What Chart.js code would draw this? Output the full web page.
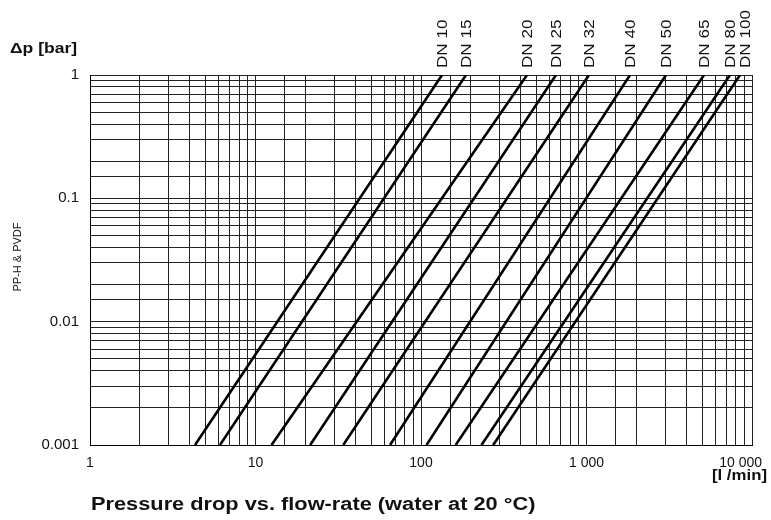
<!DOCTYPE html>
<html>
<head>
<meta charset="utf-8">
<title>Pressure drop vs. flow-rate</title>
<script src="https://cdn.jsdelivr.net/npm/chart.js@4.4.1/dist/chart.umd.min.js"></script>
<style>
	body { margin: 0; background: #fff; }
	canvas { display: block; }
</style>
</head>
<body>
<canvas id="mycanvas" width="771" height="520"></canvas>
<script>
// pipe sizes and the flow [l/min] where each line meets 0.001 bar and 1 bar
var sizes = ["DN 10", "DN 15", "DN 20", "DN 25", "DN 32", "DN 40", "DN 50", "DN 65", "DN 80", "DN 100"];
var flowLow = [4.31, 6.1, 12.5, 21.4, 33.9, 65, 108, 162, 232, 273];
var flowHigh = [134, 187, 437, 654, 1035, 1832, 3020, 5130, 7360, 8460];
var dpLow = 0.001;
var dpHigh = 1;

var xTicks = [1, 10, 100, 1000, 10000];
var xTickLabels = ["1", "10", "100", "1 000", "10 000"];
var yTicks = [1, 0.1, 0.01, 0.001];
var yTickLabels = ["1", "0.1", "0.01", "0.001"];

var FONT = "'Liberation Sans', Arial, Helvetica, sans-serif";

var datasets = [];
for (var i in sizes) {
	datasets.push({
		label: sizes[i],
		data: [{x: flowLow[i], y: dpLow}, {x: flowHigh[i], y: dpHigh}],
		borderColor: "#000",
		borderWidth: 2.6,
		pointRadius: 0,
		fill: false
	});
}

// stretched text helper (source chart has wide lettering)
function wideText(ctx, text, x, y, stretch) {
	ctx.save();
	ctx.translate(x, y);
	ctx.scale(stretch, 1);
	ctx.fillText(text, 0, 0);
	ctx.restore();
}

var extras = {
	id: "extras",
	afterDraw: function(chart) {
		var ctx = chart.ctx;
		var xs = chart.scales.x;
		var area = chart.chartArea;

		ctx.save();
		ctx.fillStyle = "#111";

		// x tick labels
		ctx.font = "14px " + FONT;
		ctx.textBaseline = "middle";
		for (var i = 0; i < xTicks.length; i++) {
			var px = xs.getPixelForValue(xTicks[i]);
			if (i == xTicks.length - 1) {
				ctx.textAlign = "right";
				ctx.fillText(xTickLabels[i], px + 10, area.bottom + 18);
			} else {
				ctx.textAlign = "center";
				ctx.fillText(xTickLabels[i], px, area.bottom + 18);
			}
		}

		// axis titles
		ctx.font = "bold 14px " + FONT;
		ctx.textAlign = "left";
		ctx.textBaseline = "alphabetic";
		wideText(ctx, "\u0394p [bar]", 10, 53, 1.25);

		ctx.textAlign = "right";
		wideText(ctx, "[l /min]", 767, 480, 1.2);

		ctx.font = "bold 18px " + FONT;
		ctx.textAlign = "left";
		wideText(ctx, "Pressure drop vs. flow-rate (water at 20 \u00b0C)", 91, 510, 1.21);

		// material note on the left
		ctx.save();
		ctx.translate(21, (area.top + area.bottom) / 2 - 3);
		ctx.rotate(-Math.PI / 2);
		ctx.font = "11px " + FONT;
		ctx.textAlign = "center";
		ctx.fillText("PP-H & PVDF", 0, 0);
		ctx.restore();

		// DN labels above the top end of each line
		ctx.font = "14px " + FONT;
		var last = -100;
		for (var j = 0; j < sizes.length; j++) {
			var lx = xs.getPixelForValue(flowHigh[j]);
			if (lx - last < 15) lx = last + 15;
			last = lx;
			ctx.save();
			ctx.translate(lx + 5, area.top - 7);
			ctx.rotate(-Math.PI / 2);
			ctx.scale(1.22, 1);
			ctx.textAlign = "left";
			ctx.textBaseline = "alphabetic";
			ctx.fillText(sizes[j], 0, 0);
			ctx.restore();
		}
		ctx.restore();
	}
};

var ctx = document.getElementById("mycanvas");

var LineGraph = new Chart(ctx, {
	type: "line",
	data: { datasets: datasets },
	plugins: [extras],
	options: {
		responsive: false,
		animation: false,
		devicePixelRatio: 1,
		layout: { padding: { left: 0, right: 19, top: 75, bottom: 75 } },
		plugins: {
			legend: { display: false },
			tooltip: { enabled: false }
		},
		scales: {
			x: {
				type: "logarithmic",
				min: xTicks[0],
				max: xTicks[xTicks.length - 1],
				border: { display: true, color: "#000", width: 1 },
				grid: { color: "#222", lineWidth: 1, drawTicks: false },
				ticks: { display: false }
			},
			y: {
				type: "logarithmic",
				min: dpLow,
				max: dpHigh,
				afterFit: function(scale) { scale.width = 90; },
				border: { display: true, color: "#000", width: 1 },
				grid: { color: "#222", lineWidth: 1, drawTicks: false },
				ticks: {
					autoSkip: false,
					padding: 11,
					color: "#111",
					font: { family: FONT, size: 15 },
					callback: function(value) {
						for (var k = 0; k < yTicks.length; k++) {
							if (Math.abs(Math.log10(value) - Math.log10(yTicks[k])) < 1e-6) return yTickLabels[k];
						}
						return "";
					}
				}
			}
		}
	}
});
</script>
</body>
</html>
